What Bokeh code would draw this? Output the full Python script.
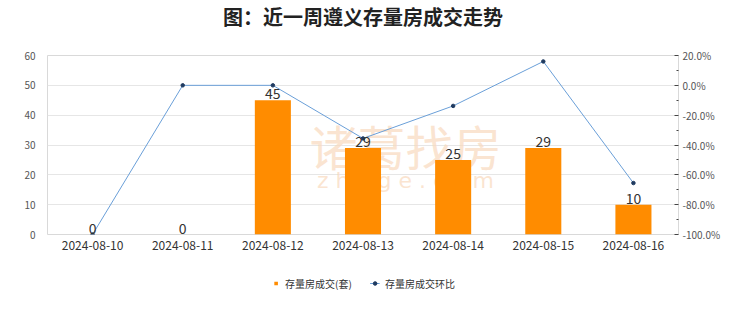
from bokeh.plotting import figure
from bokeh.layouts import column
from bokeh.models import (ColumnDataSource, Range1d, LinearAxis, FactorRange, Legend, LegendItem,
                          LabelSet, Label, FixedTicker, CustomJSTickFormatter)
from bokeh.embed import file_html
from bokeh.resources import INLINE
from bokeh.core.properties import value

dates = ["2024-08-10", "2024-08-11", "2024-08-12", "2024-08-13", "2024-08-14", "2024-08-15", "2024-08-16"]
deals = [0, 0, 45, 29, 25, 29, 10]
mom = [-100.0, 0.0, 0.0, -35.6, -13.8, 16.0, -65.5]
left_ticks = [0, 10, 20, 30, 40, 50, 60]
right_ticks = [-100, -80, -60, -40, -20, 0, 20]
title = "图：近一周遵义存量房成交走势"
series_names = ["存量房成交(套)", "存量房成交环比"]

FONT = "Noto Sans CJK SC"
BAR_COLOR = "#ff8c00"
LINE_COLOR = "#6a9fd8"
DOT_COLOR = "#1f3a60"


def strip(h):
    f = figure(width=740, height=h, x_range=Range1d(0, 1), y_range=Range1d(0, 1),
               output_backend="svg", toolbar_location=None,
               min_border_left=0, min_border_right=0, min_border_top=0, min_border_bottom=0)
    f.axis.visible = False
    f.grid.visible = False
    f.outline_line_color = None
    f.border_fill_color = "white"
    return f


# title strip
tf = strip(36)
tf.add_layout(Label(x=0.5, y=0.56, text=title, text_font=FONT, text_font_size="20px",
                    text_font_style="bold", text_color="#222222",
                    text_align="center", text_baseline="middle"))

src = ColumnDataSource(dict(d=dates, v=deals, m=mom, lbl=[str(x) for x in deals]))

p = figure(width=740, height=218, x_range=FactorRange(*dates), y_range=Range1d(0, 60),
           output_backend="svg", toolbar_location=None,
           min_border_left=47, min_border_right=62, min_border_top=19, min_border_bottom=20)

p.background_fill_color = "white"
p.border_fill_color = "white"
p.outline_line_color = "#d9d9d9"
p.xgrid.grid_line_color = None
p.ygrid.grid_line_color = "#e6e6e6"
p.ygrid.ticker = FixedTicker(ticks=left_ticks)

# watermark
p.add_layout(Label(x=358, y=90, x_units="screen", y_units="screen", text="诸葛找房",
                   text_font=FONT, text_font_size="48px", text_color="#f9d9bd", text_alpha=0.7,
                   text_align="center", text_baseline="middle", level="underlay"))
p.add_layout(Label(x=358, y=54, x_units="screen", y_units="screen", text="z h u g e . c o m",
                   text_font="DejaVu Sans", text_font_size="22px", text_color="#f9d9bd", text_alpha=0.7,
                   text_align="center", text_baseline="middle", level="underlay"))

p.vbar(x="d", top="v", width=0.4, source=src, fill_color=BAR_COLOR, line_color=None)

p.extra_y_ranges = {"pct": Range1d(-100, 20)}
p.line(x="d", y="m", source=src, y_range_name="pct", line_color=LINE_COLOR, line_width=1)
p.scatter(x="d", y="m", source=src, y_range_name="pct", size=3.5, color=DOT_COLOR)

labels = LabelSet(x="d", y="v", text="lbl", source=src, text_align="center", text_baseline="bottom",
                  y_offset=1, text_font=value(FONT), text_font_size="14px", text_color="#333333")
p.add_layout(labels)

# left axis
ya = p.yaxis[0]
ya.ticker = FixedTicker(ticks=left_ticks)
ya.axis_line_color = None
ya.major_tick_line_color = None
ya.minor_tick_line_color = None
ya.major_label_text_font = FONT
ya.major_label_text_font_size = "10px"
ya.major_label_text_color = "#555555"
ya.major_label_standoff = 6

# right axis
ra = LinearAxis(y_range_name="pct")
ra.ticker = FixedTicker(ticks=right_ticks, minor_ticks=[-90, -70, -50, -30, -10, 10])
ra.formatter = CustomJSTickFormatter(code="return tick.toFixed(1) + '%';")
ra.axis_line_color = "#d9d9d9"
ra.major_tick_in = 4
ra.major_tick_out = 0
ra.minor_tick_in = 2
ra.minor_tick_out = 0
ra.major_tick_line_color = "#444444"
ra.minor_tick_line_color = "#444444"
ra.major_label_text_font = FONT
ra.major_label_text_font_size = "10px"
ra.major_label_text_color = "#555555"
ra.major_label_standoff = 4
p.add_layout(ra, "right")

xa = p.xaxis[0]
xa.axis_line_color = None
xa.major_tick_line_color = None
xa.minor_tick_line_color = None
xa.major_label_text_font = FONT
xa.major_label_text_font_size = "12px"
xa.major_label_text_color = "#333333"
xa.major_label_standoff = 0

# legend strip (stand-in renderers kept outside the visible range)
lf = strip(58)
stand_in = ColumnDataSource(dict(x=[-9.0], y=[-9.0]))
rb = lf.scatter(x="x", y="y", source=stand_in, marker="square", size=8, fill_color=BAR_COLOR, line_color=None)
rl = lf.line(x="x", y="y", source=stand_in, line_color=LINE_COLOR, line_width=1)
rs = lf.scatter(x="x", y="y", source=stand_in, size=3.5, color=DOT_COLOR)
legend = Legend(items=[LegendItem(label=series_names[0], renderers=[rb]),
                       LegendItem(label=series_names[1], renderers=[rl, rs])],
                orientation="horizontal", location="center", border_line_color=None,
                label_text_font=FONT, label_text_font_size="10px", label_text_color="#333333",
                glyph_width=10, glyph_height=9, spacing=18, label_standoff=5, margin=0, padding=2,
                background_fill_alpha=0)
lf.add_layout(legend, "center")

layout = column(tf, p, lf, spacing=0)
open("out.html", "w").write(file_html(layout, INLINE))
